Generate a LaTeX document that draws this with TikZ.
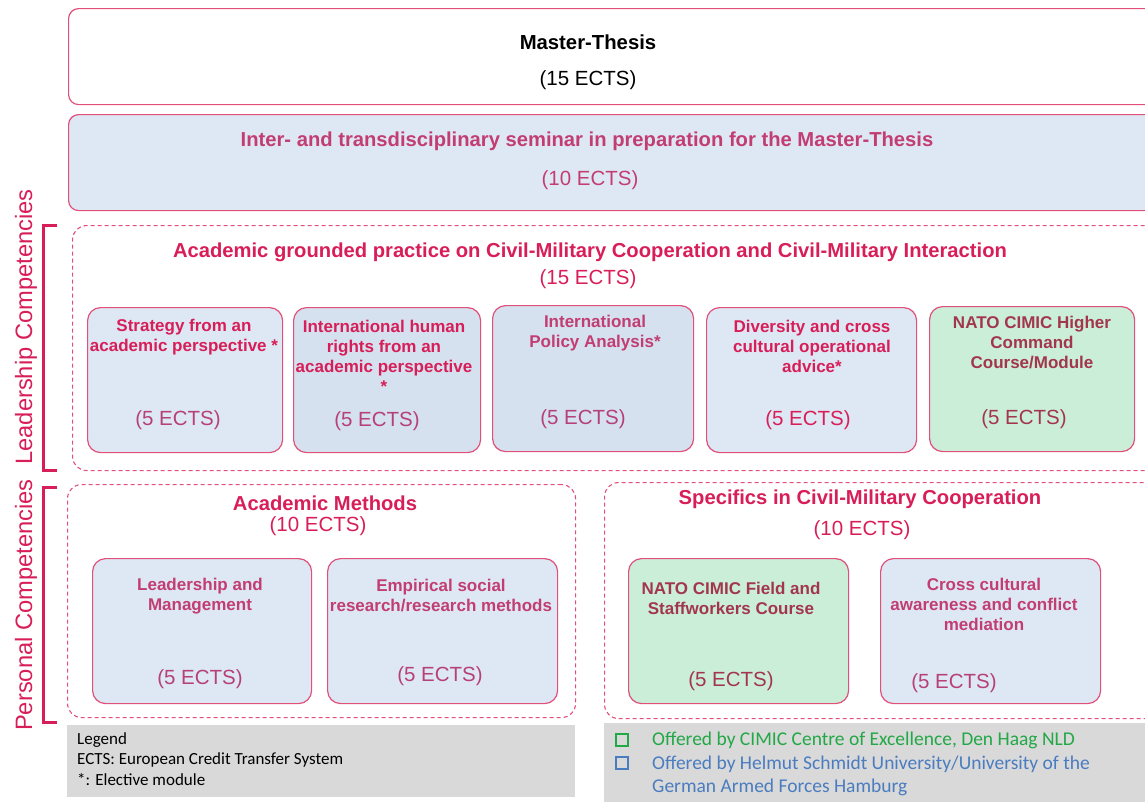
\documentclass[tikz,border=0pt]{standalone}
\usepackage{fontspec}
\setmainfont{Liberation Sans}
\newfontfamily\legendfont{Carlito}
\definecolor{boxred}{HTML}{E0507A}
\definecolor{titlered}{HTML}{D81E58}
\definecolor{ectsred}{HTML}{B5407A}
\definecolor{semred}{HTML}{C23D72}
\definecolor{natored}{HTML}{A3364F}
\definecolor{lightblue}{HTML}{DEE8F4}
\definecolor{midblue}{HTML}{D5E1EF}
\definecolor{lightgreen}{HTML}{CBEED9}
\definecolor{legendgrey}{HTML}{D9D9D9}
\definecolor{legendgreen}{HTML}{22A846}
\definecolor{legendblue}{HTML}{4A7CC0}
\tikzset{
  bigbox/.style={draw=boxred, line width=1.2pt, rounded corners=10pt, inner sep=0pt},
  groupbox/.style={draw=boxred, line width=1.1pt, dash pattern=on 4pt off 3pt, rounded corners=14pt, inner sep=0pt},
  modbox/.style={draw=boxred, line width=1.2pt, rounded corners=13pt, fill=lightblue, inner sep=0pt, minimum width=#1},
  modbox/.default=200pt,
  modtxt/.style={text=titlered, font=\bfseries\fontsize{17}{20}\selectfont, align=center, inner sep=0pt},
  ects/.style={text=ectsred, font=\fontsize{20.5}{22}\selectfont, inner sep=0pt},
  grptitle/.style={text=titlered, font=\bfseries\fontsize{20.2}{24}\selectfont, inner sep=0pt},
  sidelabel/.style={text=titlered, font=\fontsize{23.7}{26}\selectfont, rotate=90, inner sep=0pt},
  bracket/.style={draw=titlered, line width=3pt},
  legendbox/.style={fill=legendgrey, inner sep=0pt},
  legtxt/.style={font=\legendfont\fontsize{17}{20}\selectfont, anchor=west, inner sep=0pt},
  offtxt/.style={font=\legendfont\fontsize{19.5}{23}\selectfont, anchor=west, inner sep=0pt, align=left},
  tick/.style={draw=#1, line width=1.8pt, minimum size=11.5pt, inner sep=0pt}
}
\begin{document}
\begin{tikzpicture}[x=1pt,y=-1pt]
\useasboundingbox (0,0) rectangle (1145,801);
\clip (0,0) rectangle (1145,801);

% top two boxes
\node[bigbox, minimum width=1100pt, minimum height=96pt, anchor=north west] (thesis) at (68,8) {};
\node[font=\bfseries\fontsize{20.3}{24}\selectfont, inner sep=0pt] (thesis-t) at (588,42) {Master-Thesis};
\node[font=\fontsize{20.5}{22}\selectfont, inner sep=0pt] (thesis-e) at (588,80) {(15 ECTS)};

\node[bigbox, fill=lightblue, minimum width=1100pt, minimum height=96pt, anchor=north west] (seminar) at (68,114) {};
\node[text=semred, font=\bfseries\fontsize{20.2}{24}\selectfont, inner sep=0pt] (seminar-t) at (587,141) {Inter- and transdisciplinary seminar in preparation for the Master-Thesis};
\node[text=semred, font=\fontsize{20.5}{22}\selectfont, inner sep=0pt] (seminar-e) at (590,180) {(10 ECTS)};

% leadership competencies
\node[groupbox, minimum width=1100pt, minimum height=245pt, anchor=north west] (lead) at (72,225) {};
\node[grptitle] (lead-t) at (590,252) {Academic grounded practice on Civil-Military Cooperation and Civil-Military Interaction};
\node[text=titlered, font=\fontsize{20.5}{22}\selectfont, inner sep=0pt] (lead-e) at (588,279) {(15 ECTS)};
\draw[bracket] (57,225) -- (43,225) -- (43,470) -- (57,470);
\node[sidelabel] (lead-l) at (26,327) {Leadership Competencies};

\node[modbox=195pt, minimum height=145pt, anchor=north west] (strat) at (87,307) {};
\node[modtxt] (strat-t) at (184,337) {Strategy from an\\academic perspective *};
\node[ects] (strat-e) at (178,420) {(5 ECTS)};

\node[modbox=187pt, fill=midblue, minimum height=145pt, anchor=north west] (rights) at (293,307) {};
\node[modtxt] (rights-t) at (384,356) {International human\\rights from an\\academic perspective\\*};
\node[ects] (rights-e) at (377,421) {(5 ECTS)};

\node[modbox=201pt, fill=midblue, minimum height=146pt, anchor=north west] (policy) at (492,305) {};
\node[modtxt, text=semred] (policy-t) at (595,333) {International\\Policy Analysis*};
\node[ects] (policy-e) at (583,419) {(5 ECTS)};

\node[modbox=210pt, minimum height=145pt, anchor=north west] (divers) at (706,307) {};
\node[modtxt] (divers-t) at (812,346) {Diversity and cross\\cultural operational\\advice*};
\node[ects, text=titlered] (divers-e) at (808,420) {(5 ECTS)};

\node[modbox=205pt, fill=lightgreen, minimum height=145pt, anchor=north west] (higher) at (929,306) {};
\node[modtxt, text=natored] (higher-t) at (1032,343) {NATO CIMIC Higher\\Command\\Course/Module};
\node[ects, text=natored] (higher-e) at (1024,419) {(5 ECTS)};

% personal competencies
\draw[bracket] (57,487) -- (43,487) -- (43,722) -- (57,722);
\node[sidelabel] (pers-l) at (26,605) {Personal Competencies};

\node[groupbox, minimum width=508pt, minimum height=233pt, anchor=north west] (methods) at (67,484) {};
\node[grptitle] (methods-t) at (325,503) {Academic Methods};
\node[text=titlered, font=\fontsize{20.5}{22}\selectfont, inner sep=0pt] (methods-e) at (318,526) {(10 ECTS)};

\node[modbox=219pt, minimum height=145pt, anchor=north west] (leadmgmt) at (92,558) {};
\node[modtxt, text=semred] (leadmgmt-t) at (200,596) {Leadership and\\Management};
\node[ects] (leadmgmt-e) at (200,679) {(5 ECTS)};

\node[modbox=230pt, minimum height=145pt, anchor=north west] (empir) at (327,558) {};
\node[modtxt, text=semred] (empir-t) at (441,595) {Empirical social\\research/research methods};
\node[ects] (empir-e) at (440,676) {(5 ECTS)};

\node[groupbox, minimum width=560pt, minimum height=236pt, anchor=north west] (specif) at (604,482) {};
\node[grptitle] (specif-t) at (860,499) {Specifics in Civil-Military Cooperation};
\node[text=titlered, font=\fontsize{20.5}{22}\selectfont, inner sep=0pt] (specif-e) at (862,530) {(10 ECTS)};

\node[modbox=220pt, fill=lightgreen, minimum height=145pt, anchor=north west] (field) at (628,558) {};
\node[modtxt, text=natored] (field-t) at (731,598) {NATO CIMIC Field and\\Staffworkers Course};
\node[ects, text=natored] (field-e) at (731,681) {(5 ECTS)};

\node[modbox=220pt, minimum height=145pt, anchor=north west] (cross) at (880,558) {};
\node[modtxt, text=semred] (cross-t) at (984,604) {Cross cultural\\awareness and conflict\\mediation};
\node[ects] (cross-e) at (954,683) {(5 ECTS)};

% legend
\node[legendbox, minimum width=508pt, minimum height=72pt, anchor=north west] (legend) at (67,725) {};
\node[legtxt] (leg-1) at (77,740) {Legend};
\node[legtxt] (leg-2) at (77,760) {ECTS: European Credit Transfer System};
\node[legtxt] (leg-3) at (77,780) {*: Elective module};

\node[legendbox, minimum width=560pt, minimum height=80pt, anchor=north west] (offered) at (604,723) {};
\node[tick=legendgreen] (sq-green) at (622,740) {};
\node[offtxt, text=legendgreen] (off-green) at (652,740) {Offered by CIMIC Centre of Excellence, Den Haag NLD};
\node[tick=legendblue] (sq-blue) at (622,763) {};
\node[offtxt, text=legendblue, anchor=north west] (off-blue) at (652,756) {Offered by Helmut Schmidt University/University of the\\German Armed Forces Hamburg};
\end{tikzpicture}
\end{document}
